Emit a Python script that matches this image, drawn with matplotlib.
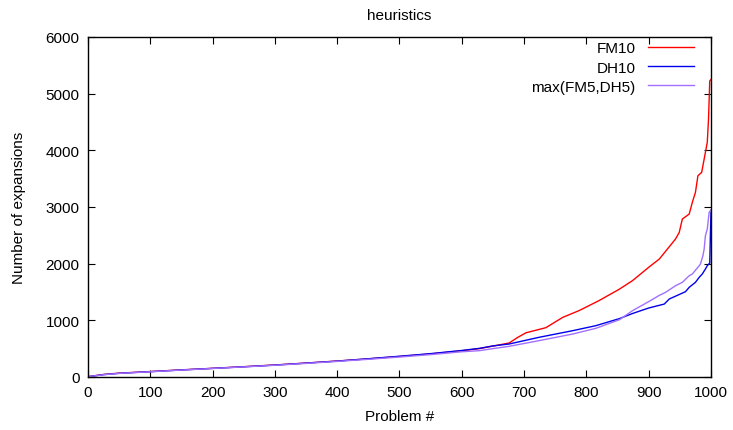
import matplotlib
matplotlib.use("Agg")
from matplotlib import pyplot as plt

plt.rcParams['font.family'] = ['Liberation Sans', 'DejaVu Sans']

# sorted number of expansions per problem
fm10_x = [0, 25, 50, 100, 150, 200, 250, 300, 350, 400, 450, 500, 550, 600, 628, 650, 676,
          690, 703, 735, 762, 788, 820, 853, 874, 900, 917, 930, 943, 949, 954, 965, 970,
          975, 979, 985, 989, 994, 996, 998, 1000]
fm10_y = [5, 45, 68, 96, 126, 153, 182, 212, 246, 282, 320, 362, 408, 462, 500, 545, 600,
          700, 780, 870, 1052, 1170, 1346, 1550, 1700, 1935, 2081, 2257, 2434, 2551, 2787, 2875, 3081,
          3257, 3551, 3610, 3845, 4139, 4550, 5225, 5250]

dh10_x = [0, 25, 50, 100, 150, 200, 250, 300, 350, 400, 450, 500, 550, 600, 628, 650, 676,
          724, 778, 815, 853, 874, 900, 925, 933, 959, 965, 975, 981, 986, 991, 994, 997,
          998, 999, 1000]
dh10_y = [5, 42, 65, 94, 124, 152, 180, 210, 245, 280, 322, 366, 412, 468, 505, 548, 582,
          700, 817, 905, 1030, 1120, 1217, 1287, 1376, 1505, 1582, 1670, 1758, 1817, 1905, 1963, 2000,
          2010, 2500, 2905]

max5_x = [0, 25, 50, 100, 150, 200, 250, 300, 350, 400, 450, 500, 550, 600, 628, 650, 676,
          724, 778, 815, 853, 874, 900, 917, 927, 943, 954, 965, 970, 981, 983, 987, 989,
          991, 994, 997, 1000]
max5_y = [5, 40, 63, 92, 122, 150, 178, 207, 240, 275, 312, 352, 395, 445, 464, 500, 541,
          641, 758, 858, 1010, 1170, 1330, 1440, 1493, 1610, 1670, 1787, 1817, 1963, 1993, 2140, 2257,
          2492, 2610, 2905, 2950]

fig = plt.figure(figsize=(7.33, 4.31), dpi=100)
ax = fig.add_axes([0.12, 0.123, 0.85, 0.789])

ax.plot(fm10_x, fm10_y, color='#ff0000', lw=1.0, label='FM10')
ax.plot(dh10_x, dh10_y, color='#0000ee', lw=1.0, label='DH10')
ax.plot(max5_x, max5_y, color='#a070ff', lw=1.0, label='max(FM5,DH5)')

ax.set_xlim(0, 1000)
ax.set_ylim(0, 6000)
ax.set_xticks(range(0, 1001, 100))
ax.set_yticks(range(0, 6001, 1000))
ax.tick_params(direction='in', top=True, right=True, length=5, labelsize=11, pad=6)
for s in ax.spines.values():
    s.set_linewidth(1.0)

ax.set_title('heuristics', fontsize=11, pad=13)
ax.set_xlabel('Problem #', fontsize=11, labelpad=7)
ax.set_ylabel('Number of expansions', fontsize=11, labelpad=14)

leg = ax.legend(loc='upper right', bbox_to_anchor=(0.994, 1.027), frameon=False,
                markerfirst=False, fontsize=11, handlelength=3.0, labelspacing=0.33,
                handletextpad=0.8)

plt.savefig('out.png', dpi=100)
